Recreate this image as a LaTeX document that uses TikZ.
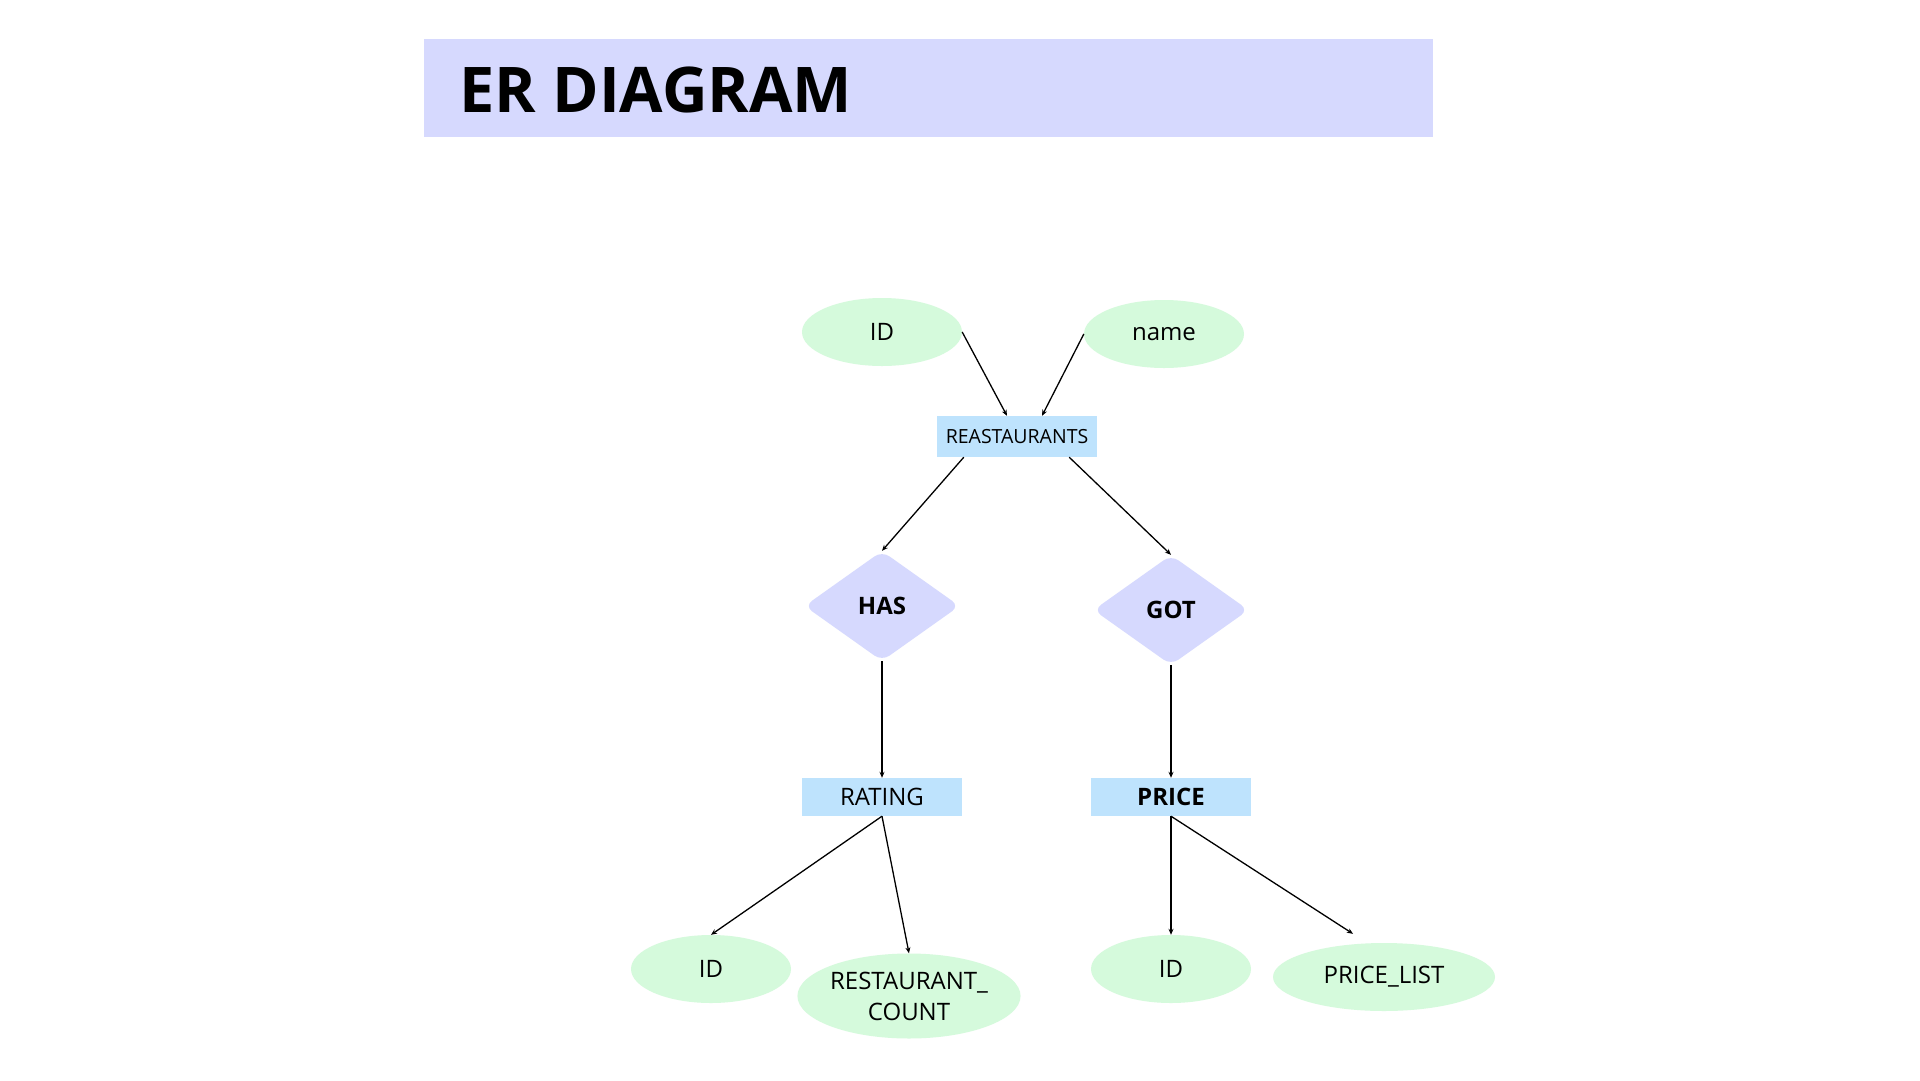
\documentclass[tikz,border=0pt]{standalone}
\usepackage{fontspec}
\setmainfont{Open Sans}
\usetikzlibrary{shapes.geometric,arrows.meta}
\definecolor{lav}{RGB}{214,217,254}
\definecolor{attrgreen}{RGB}{213,250,220}
\definecolor{entblue}{RGB}{190,227,253}
\tikzset{
  attr/.style={ellipse,fill=attrgreen,inner sep=0pt,minimum width=160pt,minimum height=68pt,font=\fontsize{24}{31}\selectfont,align=center},
  ent/.style={rectangle,fill=entblue,inner sep=0pt,minimum width=160pt,minimum height=38pt,font=\fontsize{24}{28}\selectfont},
  rel/.style={diamond,fill=lav,inner sep=0pt,minimum width=155pt,minimum height=110pt,rounded corners=9pt,font=\bfseries\fontsize{24}{28}\selectfont},
  conn/.style={line width=1.3pt,-{Stealth[length=6pt,width=5pt]}},
}
\begin{document}
\begin{tikzpicture}[x=1pt,y=-1pt]
\useasboundingbox (0,0) rectangle (1920,1080);
\fill[white] (0,0) rectangle (1920,1080);
% title banner
\node[rectangle,fill=lav,inner sep=0pt,minimum width=1009pt,minimum height=98pt,anchor=north west] (banner) at (424,39) {};
\node[anchor=base west,inner sep=0pt,font=\bfseries\fontsize{63}{74}\selectfont] (title) at (459,112) {ER DIAGRAM};
% nodes
\node[attr] (idtop) at (882,332) {ID};
\node[attr] (name) at (1164,334) {name};
\node[ent,minimum height=41pt,font=\fontsize{19.5}{23}\selectfont] (reast) at (1017,436.5) {REASTAURANTS};
\node[rel] (has) at (882,606) {HAS};
\node[rel] (got) at (1171,610) {GOT};
\node[ent] (rating) at (882,797) {RATING};
\node[ent,font=\bfseries\fontsize{24}{28}\selectfont] (price) at (1171,797) {PRICE};
\node[attr] (idl) at (711,969) {ID};
\node[attr,minimum width=214pt,minimum height=85pt] (rc) at (909,996) {RESTAURANT\_\\COUNT};
\node[attr] (idr) at (1171,969) {ID};
\node[attr,minimum width=222pt] (pl) at (1384,977) {PRICE\_LIST};
% connectors
\draw[conn] (idtop.east) -- ([xshift=-10pt]reast.north);
\draw[conn] (name.west) -- ([xshift=25pt]reast.north);
\draw[conn] ([xshift=27pt]reast.south west) -- (has.north);
\draw[conn] ([xshift=-28pt]reast.south east) -- (got.north);
\draw[conn] (has.south) -- (rating.north);
\draw[conn] (got.south) -- (price.north);
\draw[conn] (rating.south) -- (idl.north);
\draw[conn] (rating.south) -- (rc.north);
\draw[conn] (price.south) -- (idr.north);
\draw[conn] (price.south) -- ([xshift=-31pt,yshift=9pt]pl.north);
\end{tikzpicture}
\end{document}
